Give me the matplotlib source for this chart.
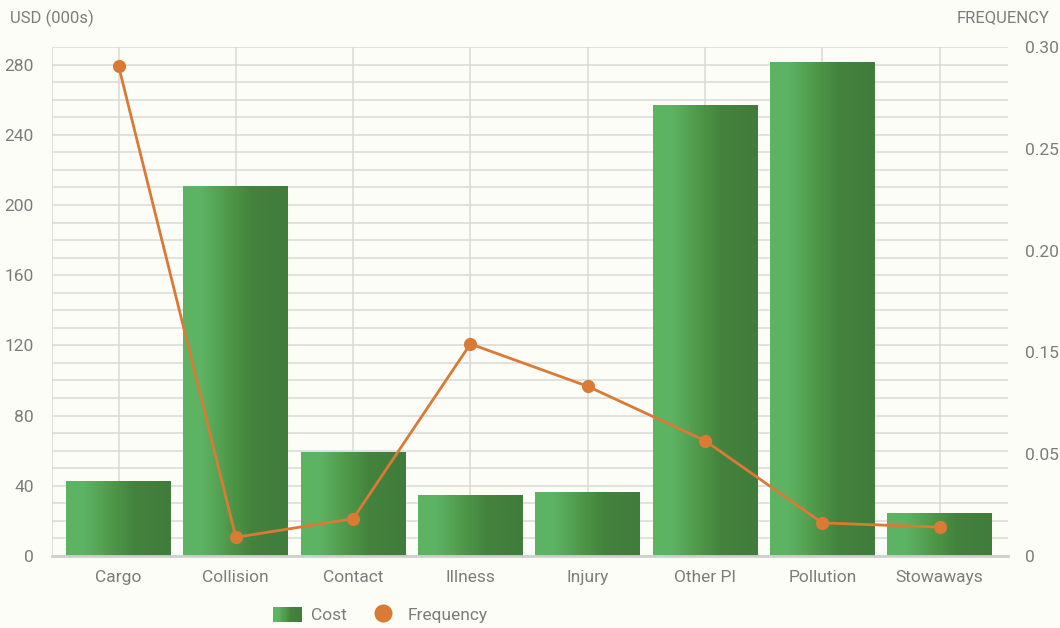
import numpy as np
import matplotlib
matplotlib.use("Agg")
import matplotlib.pyplot as plt
from matplotlib.colors import LinearSegmentedColormap
from matplotlib.legend_handler import HandlerBase
from matplotlib.patches import Rectangle
from matplotlib.lines import Line2D

categories = ["Cargo", "Collision", "Contact", "Illness", "Injury",
              "Other PI", "Pollution", "Stowaways"]
cost = [43, 211, 59, 34.5, 36.5, 257, 281.5, 24.5]
frequency = [0.289, 0.011, 0.022, 0.125, 0.100, 0.068, 0.0195, 0.017]

left_ticks = [0, 40, 80, 120, 160, 200, 240, 280]
right_tick_labels = ["0", "0.05", "0.15", "0.20", "0.25", "0.30"]

BG = "#fdfdf8"
GRID = "#d9d9d6"
TEXT = "#7c7c7c"
ORANGE = "#d97a35"
green_cmap = LinearSegmentedColormap.from_list(
    "bar_green",
    [(0.0, "#5cb564"), (0.18, "#5db363"), (0.45, "#4f9748"),
     (0.65, "#44833e"), (1.0, "#407c3b")])

plt.rcParams["font.family"] = ["Roboto", "DejaVu Sans"]

fig = plt.figure(figsize=(10.6, 6.28), dpi=100, facecolor=BG)
ax = fig.add_axes([52 / 1060, 72 / 628, 956 / 1060, 509 / 628])
ax.set_facecolor(BG)

x = np.arange(len(categories))
bar_w = 0.895
bars = ax.bar(x, cost, width=bar_w, color="none", edgecolor="none", zorder=2)

# horizontal light-to-dark fill inside each bar
grad = np.linspace(0, 1, 256).reshape(1, -1)
for b in bars:
    x0, w, h = b.get_x(), b.get_width(), b.get_height()
    im = ax.imshow(grad, cmap=green_cmap, aspect="auto",
                   extent=(x0, x0 + w, 0, h), zorder=2, interpolation="bilinear")
    im.set_clip_path(b)

ax.set_xlim(-0.567, 7.583)
ax.set_ylim(0, 290)
ax.set_yticks(left_ticks)
ax.set_yticks(np.arange(0, 291, 10), minor=True)
ax.set_xticks(x)
ax.set_xticklabels(categories)
ax.grid(True, which="both", axis="y", color=GRID, linewidth=1.1, zorder=0)
ax.grid(True, which="major", axis="x", color=GRID, linewidth=1.1, zorder=0)
ax.set_axisbelow(True)
ax.axvline(-0.567, color=GRID, linewidth=1.1, zorder=0)
for s in ["top", "right", "left"]:
    ax.spines[s].set_visible(False)
ax.spines["bottom"].set_color("#cfcfcc")
ax.spines["bottom"].set_linewidth(2)
ax.tick_params(axis="both", which="both", length=0, colors=TEXT, labelsize=12.5)
ax.tick_params(axis="y", pad=13)
ax.tick_params(axis="x", pad=10)

ax2 = ax.twinx()
ax2.set_ylim(0, 0.30)
ax2.set_yticks(np.linspace(0, 0.30, 6))
ax2.set_yticklabels(right_tick_labels)
for s in ax2.spines.values():
    s.set_visible(False)
ax2.tick_params(axis="y", length=0, colors=TEXT, labelsize=12.5, pad=12)
ax2.plot(x, frequency, color=ORANGE, linewidth=2, marker="o",
         markersize=9.5, markeredgewidth=0, zorder=3)

fig.text(10 / 1060, 1 - 18 / 628, "USD (000s)", color=TEXT, fontsize=12,
         ha="left", va="center")
fig.text(1050 / 1060, 1 - 18 / 628, "FREQUENCY", color=TEXT, fontsize=12,
         ha="right", va="center")


class GradientHandler(HandlerBase):
    def create_artists(self, legend, orig_handle, xdescent, ydescent,
                       width, height, fontsize, trans):
        artists = []
        n = 24
        for i in range(n):
            r = Rectangle((-xdescent + width * i / n, -ydescent), width / n + 0.3,
                          height, facecolor=green_cmap(i / (n - 1)),
                          edgecolor="none", transform=trans)
            artists.append(r)
        return artists


cost_handle = Rectangle((0, 0), 1, 1)
freq_handle = Line2D([], [], color=ORANGE, marker="o", linestyle="none",
                     markersize=13, markeredgewidth=0)
leg = fig.legend([cost_handle, freq_handle], ["Cost", "Frequency"],
                 handler_map={Rectangle: GradientHandler()},
                 loc="center", bbox_to_anchor=(380 / 1060, 1 - 615 / 628),
                 ncol=2, frameon=False, fontsize=12.5, labelcolor=TEXT,
                 handlelength=1.65, handleheight=1.0, handletextpad=0.55,
                 columnspacing=1.3)

fig.savefig("out.png", dpi=100, facecolor=BG)
